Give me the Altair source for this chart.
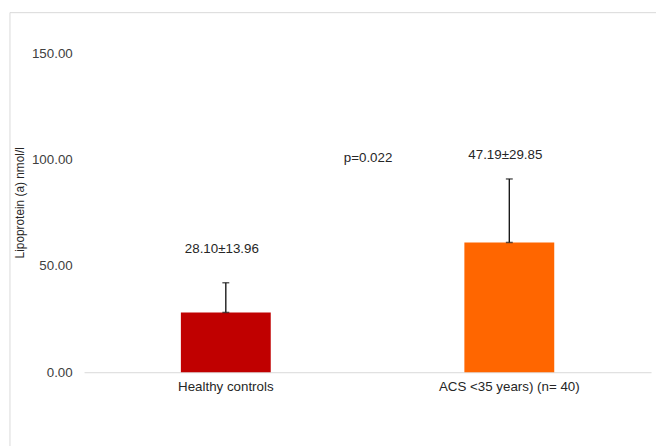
import altair as alt
import pandas as pd

categories = ["Healthy controls", "ACS <35 years) (n= 40)"]
bar_values = [28.1, 61.0]
sds = [13.96, 29.85]
labels = ["28.10±13.96", "47.19±29.85"]
label_y = [58.0, 102.2]
p_text = ["p=0.022"]
p_y = [100.8]
colors = ["#C00000", "#FF6600"]

FONT = "Liberation Sans"

df = pd.DataFrame({"group": categories, "value": bar_values, "sd": sds,
                   "label": labels, "label_y": label_y})
pdf = pd.DataFrame({"group": [categories[1]], "text": p_text, "y": p_y})

x_enc = alt.X("group:N", sort=categories,
              scale=alt.Scale(paddingInner=0.683, paddingOuter=0.3415),
              axis=alt.Axis(title=None, labelAngle=0, ticks=False, tickSize=0,
                            domainColor="#D9D9D9", domainWidth=1,
                            labelFontSize=13.5, labelPadding=8,
                            labelColor="#262626", labelFont=FONT))
y_scale = alt.Scale(domain=[0, 150], nice=False)

base = alt.Chart(df)

bars = base.mark_bar().encode(
    x=x_enc,
    y=alt.Y("value:Q", scale=y_scale,
            axis=alt.Axis(values=[0, 50, 100, 150], format=".2f", domain=False,
                          ticks=False, tickSize=0, grid=False, labelPadding=12,
                          labelFontSize=13.5, labelColor="#404040", labelFont=FONT,
                          title="Lipoprotein (a) nmol/l", titleFontSize=12,
                          titleFontWeight="normal", titleFont=FONT,
                          titleColor="#262626", titleX=-65, titleY=151,
                          titleAngle=-90, titleAlign="center",
                          titleBaseline="middle")),
    color=alt.Color("group:N", scale=alt.Scale(domain=categories, range=colors),
                    legend=None),
)

err = base.transform_calculate(top="datum.value + datum.sd")

rule = err.mark_rule(color="#1a1a1a", strokeWidth=1.4).encode(
    x=alt.X("group:N", sort=categories),
    y=alt.Y("value:Q", scale=y_scale),
    y2="top:Q",
)
cap_top = err.mark_tick(color="#1a1a1a", size=7, thickness=1.5).encode(
    x=alt.X("group:N", sort=categories),
    y=alt.Y("top:Q", scale=y_scale),
)
cap_bot = base.mark_tick(color="#1a1a1a", size=7, thickness=1.5).encode(
    x=alt.X("group:N", sort=categories),
    y=alt.Y("value:Q", scale=y_scale),
)

text = base.mark_text(font=FONT, fontSize=13.5, color="#262626", dx=-4,
                      baseline="middle").encode(
    x=alt.X("group:N", sort=categories),
    y=alt.Y("label_y:Q", scale=y_scale),
    text="label:N",
)

ptext = alt.Chart(pdf).mark_text(font=FONT, fontSize=13.5, color="#262626",
                                 dx=-143, baseline="middle").encode(
    x=alt.X("group:N", sort=categories),
    y=alt.Y("y:Q", scale=y_scale),
    text="text:N",
)

border = alt.Chart(pd.DataFrame({"a": [0]})).mark_rect(
    fill=None, stroke="#D9D9D9", strokeWidth=1).encode(
    x=alt.value(-75), x2=alt.value(700),
    y=alt.value(-41), y2=alt.value(500),
)

chart = alt.layer(border, bars, rule, cap_top, cap_bot, text, ptext).properties(
    width=574, height=323,
    padding={"left": 77, "top": 43, "right": 5, "bottom": 72},
    autosize=alt.AutoSizeParams(type="none"),
    background="white",
).configure_view(strokeWidth=0)

chart.save("out.html", embed_options={"renderer": "svg", "actions": False})
